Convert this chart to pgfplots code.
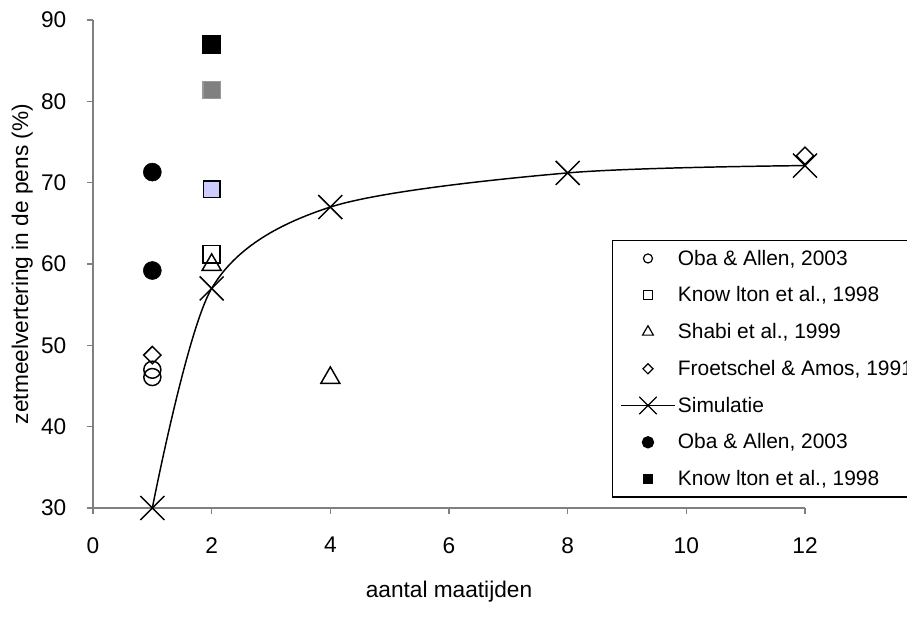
\documentclass[border=0pt]{standalone}
\usepackage{pgfplots}
\pgfplotsset{compat=1.18}
\usepackage{fontspec}
\setmainfont{Liberation Sans}
\definecolor{lightblue}{RGB}{204,204,255}
\definecolor{axgray}{RGB}{128,128,128}
\begin{document}
\begin{tikzpicture}
\useasboundingbox (-69.75pt,-91.5pt) rectangle (610.5pt,381pt);
\begin{axis}[
  scale only axis,
  width=534pt, height=366pt,
  xmin=0, xmax=12, ymin=30, ymax=90,
  xtick={0,2,4,6,8,10,12},
  ytick={30,40,50,60,70,80,90},
  axis x line*=bottom, axis y line*=left,
  axis line style={axgray, line width=0.9pt},
  tick align=outside,
  major tick length=4.5pt,
  tick style={axgray, line width=0.9pt},
  /pgf/number format/assume math mode=true,
  tick label style={font=\fontsize{17}{20}\selectfont},
  yticklabel style={xshift=-12pt},
  xticklabel style={yshift=-14pt},
  xlabel={aantal maatijden},
  ylabel={zetmeelvertering in de pens (\%)},
  label style={font=\fontsize{17}{20}\selectfont},
  xlabel style={at={(axis description cs:0.5,0)}, anchor=center, yshift=-63pt},
  ylabel style={at={(axis description cs:0,0.5)}, anchor=center, yshift=53pt},
  legend style={at={(axis cs:8.75,62.95)}, anchor=north west, draw=black, line width=0.8pt,
    font=\fontsize{15.7}{18}\selectfont, row sep=10.7pt, inner xsep=6pt, inner ysep=5pt},
  legend cell align=left,
  legend image code/.code={\draw[mark repeat=2,mark phase=2,#1] plot coordinates {(0pt,0pt) (20pt,0pt) (40pt,0pt)};},
  clip=false,
]
\addplot[only marks, mark=o, mark size=6.4pt, line width=1.1pt, black, legend image post style={mark size=3.4pt, line width=0.9pt}]
  coordinates {(1,47.0) (1,46.1)};
\addlegendentry{Oba \& Allen, 2003}
\addplot[only marks, mark=square, mark size=6.4pt, line width=1.1pt, black, legend image post style={mark size=3.4pt, line width=0.9pt}]
  coordinates {(2,61.2)};
\addlegendentry{Know lton et al., 1998}
\addplot[only marks, mark=triangle, mark size=8.2pt, line width=1.1pt, black, legend image post style={mark size=4.7pt, line width=0.9pt}]
  coordinates {(2,59.9) (4,46.0)};
\addlegendentry{Shabi et al., 1999}
\addplot[only marks, mark=diamond, mark size=6.5pt, line width=1.1pt, black, mark options={xscale=1.333}, legend image post style={mark size=3.8pt, line width=0.9pt}]
  coordinates {(1,48.8) (12,73.3)};
\addlegendentry{Froetschel \& Amos, 1991}
\addplot[smooth, tension=0.5, mark=x, mark size=12.7pt, line width=1.1pt, black, legend image post style={mark size=9.2pt, line width=0.9pt}]
  coordinates {(1,30) (2,57.0) (4,67.0) (8,71.2) (12,72.1)};
\addlegendentry{Simulatie}
\addplot[only marks, mark=*, mark size=6.75pt, black, legend image post style={mark size=4.25pt}]
  coordinates {(1,71.3) (1,59.2)};
\addlegendentry{Oba \& Allen, 2003}
\addplot[only marks, mark=square*, mark size=6.75pt, black, legend image post style={mark size=3.3pt}]
  coordinates {(2,87.0)};
\addlegendentry{Know lton et al., 1998}
\addplot[only marks, mark=square*, mark size=6.5pt, draw=black!40, fill=axgray, line width=1pt, forget plot]
  coordinates {(2,81.4)};
\addplot[only marks, mark=square*, mark size=6.3pt, draw=black, fill=lightblue, line width=1.1pt, forget plot]
  coordinates {(2,69.2)};
\end{axis}
\end{tikzpicture}
\end{document}
